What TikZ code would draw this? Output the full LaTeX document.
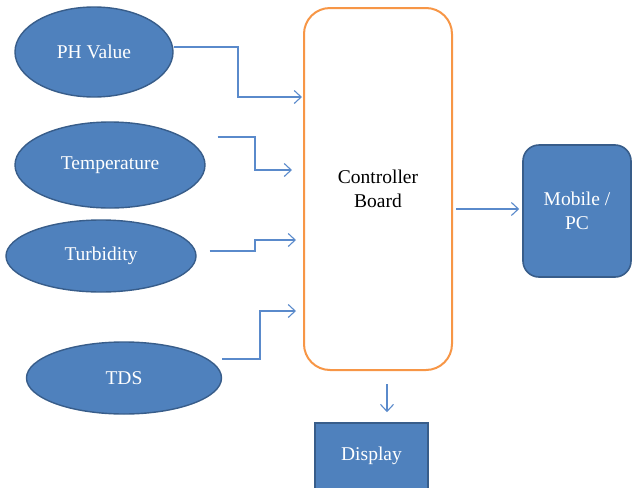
\documentclass[tikz,border=0pt]{standalone}
\usepackage{fontspec}
\setmainfont{Liberation Serif}
\usetikzlibrary{shapes.geometric,arrows.meta,calc}
\definecolor{boxfill}{HTML}{4F81BD}
\definecolor{boxline}{HTML}{385D8A}
\definecolor{connc}{HTML}{5A8ACB}
\definecolor{ctrlc}{HTML}{F79646}
\begin{document}
\begin{tikzpicture}[x=1pt,y=-1pt,
  every node/.style={font=\rmfamily\fontsize{19.5}{23.5}\selectfont, align=center, inner sep=0pt},
  sensor/.style={ellipse, fill=boxfill, draw=boxline, line width=1.4pt, text=white},
  bluebox/.style={rectangle, fill=boxfill, draw=boxline, line width=1.6pt, text=white},
  conn/.style={draw=connc, line width=1.1pt, -{Straight Barb[length=7pt,width=13pt]}}]
\useasboundingbox (0,0) rectangle (633,488);
\node[sensor, minimum width=158, minimum height=90] (ph) at (94,52) {PH Value};
\node[sensor, minimum width=190, minimum height=86] (temp) at (110,165) {Temperature};
\node[sensor, minimum width=190, minimum height=72] (turb) at (101,256) {Turbidity};
\node[sensor, minimum width=195, minimum height=72] (tds) at (124,378) {TDS};
\node[rectangle, rounded corners=26pt, draw=ctrlc, line width=2pt, fill=white,
      minimum width=148, minimum height=362] (ctrl) at (378,189) {Controller\\Board};
\node[bluebox, rounded corners=16pt, minimum width=108, minimum height=132] (mob) at (577,211) {Mobile /\\PC};
\node[bluebox, minimum width=113, minimum height=66] (disp) at (371.5,456) {Display};
\draw[conn] ([yshift=5pt]ph.east) -| (238,97) -- ([xshift=-1pt]ctrl.west |- 0,97);
\draw[conn] ([xshift=12pt,yshift=28pt]temp.east) -| (255,170) -- ([xshift=-11pt]ctrl.west |- 0,170);
\draw[conn] ([xshift=13pt,yshift=5pt]turb.east) -| (255,240) -- ([xshift=-7pt]ctrl.west |- 0,240);
\draw[conn] ([yshift=19pt]tds.east) -| (260,311) -- ([xshift=-7pt]ctrl.west |- 0,311);
\draw[conn] ([xshift=3pt]ctrl.east |- 0,209) -- ([xshift=-3pt]mob.west |- 0,209);
\draw[conn] ([xshift=9pt,yshift=-13pt]ctrl.south) -- ([xshift=15.5pt,yshift=10pt]disp.north);
\end{tikzpicture}
\end{document}
